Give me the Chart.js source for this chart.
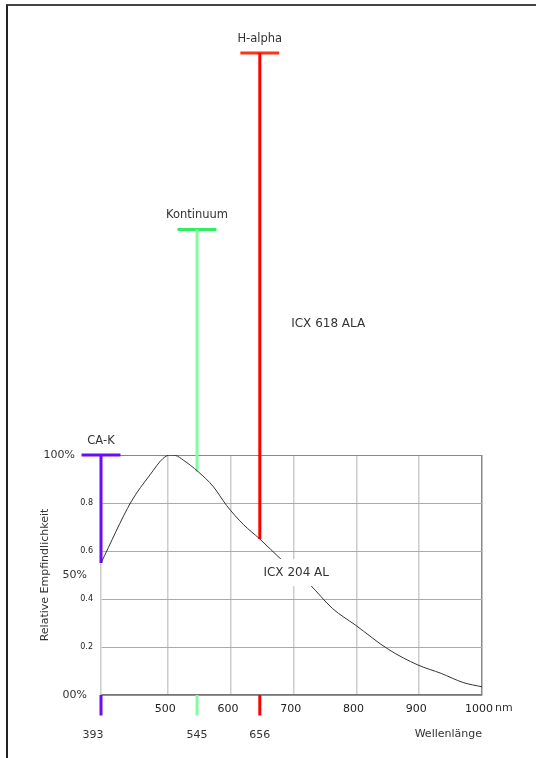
<!DOCTYPE html>
<html>
<head>
<meta charset="utf-8">
<title>Relative Empfindlichkeit</title>
<script src="https://cdn.jsdelivr.net/npm/chart.js@4.4.1/dist/chart.umd.min.js"></script>
<style>
  body { margin: 0; background: #fff; }
  #cadre {
    position: absolute; left: 6px; top: 4px; width: 540px; height: 760px;
    border-top: 2px solid #444; border-left: 2px solid #222;
  }
  #myChart { position: absolute; left: 0; top: 0; }
</style>
</head>
<body>
<div id="cadre"></div>
<canvas id="myChart" width="536" height="758"></canvas>
<script>
//? Données de la courbe (longueur d'onde en nm / sensibilité relative).

const courbeLongueurOnde = [393, 441, 471, 492, 503, 512, 524, 548, 572, 593, 620, 646, 680, 725, 762, 798, 851, 898, 935, 970, 1000];
const courbeSensibilite = [0.55, 0.805, 0.917, 0.986, 1.0, 0.998, 0.979, 0.93, 0.868, 0.79, 0.71, 0.65, 0.565, 0.462, 0.36, 0.292, 0.19, 0.125, 0.09, 0.052, 0.034];

//? Raies (filtres).

const nomsRaies = ["CA-K", "Kontinuum", "H-alpha"];
const positionsRaies = [393, 546, 646];
const etiquettesRaies = ["393", "545", "656"];
const hautRaies = [1.0, 1.94, 2.675];
const basRaies = [0.55, 0.93, 0.65];

//? Graduations.

const ticksX = [500, 600, 700, 800, 900, 1000];
const ticksY = [0, 0.2, 0.4, 0.6, 0.8, 1.0];
const valeursPourcent = [1.0, 0.5, 0.0];
const textesPourcent = ["100%", "50%", "00%"];

//? Capteurs.

const nomsCapteurs = ["ICX 618 ALA", "ICX 204 AL"];
const xCapteurs = [755, 704];
const yCapteurs = [1.546, 0.508];

//? -------------------------------------------------

const couleursRaies = ["#6a0dff", "#80ffa0", "#ff0000"];
const couleursChapeaux = ["#6a0dff", "#30ee60", "#ff3318"];
const demiLargeurChapeau = 31;
const basTraits = -0.085;
const decalagePourcent = [26, 14, 14];
const decalageEtiquettes = [-8, 0, 0];
const police = "DejaVu Sans";

const datasets = [
  {
    data: courbeLongueurOnde.map((x, i) => ({ x, y: courbeSensibilite[i] })),
    borderColor: "#333",
    borderWidth: 1,
    pointRadius: 0,
    cubicInterpolationMode: "monotone",
  },
];

positionsRaies.forEach((p, i) => {
  const style = { borderWidth: 3, pointRadius: 0, clip: false };
  datasets.push({
    ...style,
    borderColor: couleursRaies[i],
    data: [{ x: p, y: hautRaies[i] }, { x: p, y: basRaies[i] }],
  });
  datasets.push({
    ...style,
    borderColor: couleursChapeaux[i],
    data: [{ x: p - demiLargeurChapeau, y: hautRaies[i] }, { x: p + demiLargeurChapeau, y: hautRaies[i] }],
  });
  datasets.push({
    ...style,
    borderColor: couleursRaies[i],
    data: [{ x: p, y: 0 }, { x: p, y: basTraits }],
  });
});

//? Textes libres placés avec les échelles du graphique.

const textesPlugin = {
  id: "textes",
  afterDatasetsDraw(chart) {
    const { ctx, scales, chartArea } = chart;
    const sx = scales.x;
    const sy = scales.y;
    ctx.save();
    ctx.fillStyle = "#333";
    ctx.textBaseline = "middle";

    ctx.font = `11.5px '${police}'`;
    ctx.textAlign = "center";
    nomsRaies.forEach((nom, i) => {
      ctx.fillText(nom, sx.getPixelForValue(positionsRaies[i]), sy.getPixelForValue(hautRaies[i]) - 14);
    });

    ctx.font = `11px '${police}'`;
    etiquettesRaies.forEach((t, i) => {
      ctx.fillText(t, sx.getPixelForValue(positionsRaies[i]) + decalageEtiquettes[i], chartArea.bottom + 40);
    });

    ctx.textAlign = "left";
    ctx.fillText("nm", sx.getPixelForValue(1000) + 13, chartArea.bottom + 13);
    ctx.textAlign = "right";
    ctx.fillText("Wellenlänge", chartArea.right, chartArea.bottom + 39);

    textesPourcent.forEach((t, i) => {
      ctx.fillText(t, chartArea.left - decalagePourcent[i], sy.getPixelForValue(valeursPourcent[i]));
    });

    ctx.font = `12px '${police}'`;
    ctx.textAlign = "center";
    nomsCapteurs.forEach((nom, i) => {
      const x = sx.getPixelForValue(xCapteurs[i]);
      const y = sy.getPixelForValue(yCapteurs[i]);
      if (i === 1) {
        const w = ctx.measureText(nom).width + 10;
        ctx.fillStyle = "#fff";
        ctx.fillRect(x - w / 2, y - 14, w, 27);
        ctx.fillStyle = "#333";
      }
      ctx.fillText(nom, x, y);
    });

    ctx.font = `11px '${police}'`;
    ctx.translate(45, (chartArea.top + chartArea.bottom) / 2);
    ctx.rotate(-Math.PI / 2);
    ctx.fillText("Relative Empfindlichkeit", 0, 0);
    ctx.restore();
  },
};

//? Construction du graphique.

const ctx = document.getElementById("myChart").getContext("2d");

new Chart(ctx, {
  type: "line",
  data: { datasets },
  options: {
    responsive: false,
    animation: false,
    layout: { padding: { top: 455, right: 54, left: 0, bottom: 0 } },
    plugins: { legend: { display: false }, tooltip: { enabled: false } },
    scales: {
      x: {
        type: "linear",
        min: 393,
        max: 1000,
        afterBuildTicks: (axis) => {
          axis.ticks = ticksX.map((v) => ({ value: v }));
        },
        afterFit: (axis) => {
          axis.height = 63;
        },
        grid: {
          color: (c) => (c.tick && c.tick.value === 1000 ? "#888" : "#ccc"),
          lineWidth: 1.5,
          drawTicks: false,
        },
        border: { color: "#777", width: 1.5 },
        ticks: {
          padding: 8,
          labelOffset: -3,
          color: "#222",
          maxRotation: 0,
          autoSkip: false,
          font: { family: police, size: 11 },
          callback: (v) => String(v),
        },
      },
      y: {
        min: 0,
        max: 1,
        afterBuildTicks: (axis) => {
          axis.ticks = ticksY.map((v) => ({ value: v }));
        },
        afterFit: (axis) => {
          axis.width = 101;
        },
        grid: {
          color: (c) => (c.tick && c.tick.value === 1 ? "#888" : "#aaa"),
          lineWidth: 1,
          drawTicks: false,
        },
        border: { color: "#ccc", width: 1.5 },
        ticks: {
          padding: 8,
          color: "#222",
          font: { family: police, size: 8 },
          callback: (v) => (v > 0 && v < 1 ? v.toFixed(1) : ""),
        },
      },
    },
  },
  plugins: [textesPlugin],
});
</script>
</body>
</html>
